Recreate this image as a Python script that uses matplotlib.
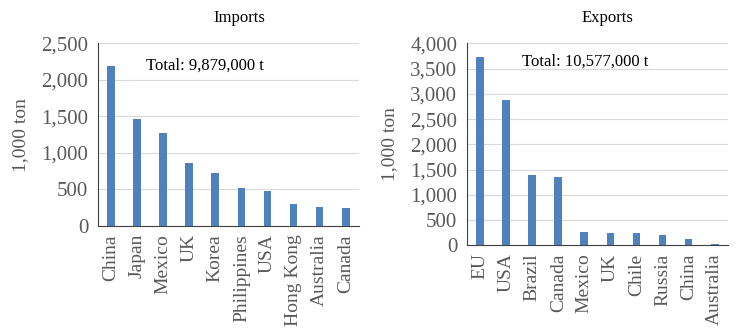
import matplotlib
matplotlib.use("Agg")
import numpy as np
from matplotlib import pyplot as plt
from matplotlib.ticker import FuncFormatter

plt.rcParams['font.family'] = ['Liberation Serif', 'DejaVu Serif']

# Imports by country (1,000 ton)
imp_countries = ["China", "Japan", "Mexico", "UK", "Korea", "Philippines",
                 "USA", "Hong Kong", "Australia", "Canada"]
imp_values = [2195, 1470, 1275, 858, 724, 522, 482, 302, 252, 245]

# Exports by country (1,000 ton)
exp_countries = ["EU", "USA", "Brazil", "Canada", "Mexico", "UK", "Chile",
                 "Russia", "China", "Australia"]
exp_values = [3740, 2885, 1390, 1345, 258, 240, 232, 192, 120, 26]

bar_color = "#4f81bd"
tick_color = "#595959"

fig = plt.figure(figsize=(7.38, 3.34), dpi=100)
ax1 = fig.add_axes([0.133, 0.324, 0.353, 0.546])
ax2 = fig.add_axes([0.633, 0.266, 0.353, 0.604])

def style(ax, names, values, ymax, step, title, title_y, total, tx, ty):
    x = np.arange(len(names))
    ax.bar(x, values, width=0.3, color=bar_color, zorder=3)
    ax.set_xlim(-0.5, len(names) - 0.5)
    ax.set_ylim(0, ymax)
    ax.set_yticks(np.arange(0, ymax + 1, step))
    ax.yaxis.set_major_formatter(FuncFormatter(lambda v, p: f"{int(v):,}"))
    ax.set_xticks(x)
    ax.set_xticklabels(names, rotation=90)
    ax.tick_params(axis='both', length=0, colors=tick_color)
    ax.tick_params(axis='y', labelsize=15, pad=7)
    ax.tick_params(axis='x', labelsize=14, pad=6)
    ax.grid(axis='y', color="#d9d9d9", linewidth=0.8, zorder=0)
    for s in ['top', 'right']:
        ax.spines[s].set_visible(False)
    ax.spines['left'].set_color("#404040")
    ax.spines['bottom'].set_color("#404040")
    ax.set_ylabel("1,000 ton", fontsize=14, color=tick_color, labelpad=9)
    ax.text(0.54, title_y, title, transform=ax.transAxes, ha='center',
            va='center', fontsize=12)
    ax.text(tx, ty, total, transform=ax.transAxes, ha='left',
            va='center', fontsize=12)

style(ax1, imp_countries, imp_values, 2500, 500, "Imports", 1.14,
      "Total: 9,879,000 t", 0.185, 0.88)
style(ax2, exp_countries, exp_values, 4000, 500, "Exports", 1.128,
      "Total: 10,577,000 t", 0.21, 0.912)

fig.savefig("out.png", dpi=100)
